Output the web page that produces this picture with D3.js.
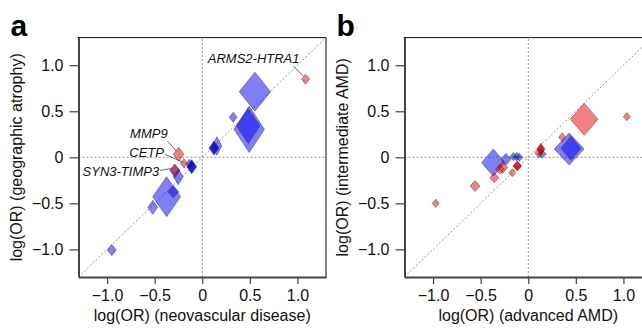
<!DOCTYPE html>
<html>
<head>
<meta charset="utf-8">
<script src="https://cdn.jsdelivr.net/npm/d3@7"></script>
<style>
  body { margin: 0; background: #fff; }
  text { font-family: "Liberation Sans", Arial, Helvetica, sans-serif; }
</style>
</head>
<body>
<div id="chart"></div>
<script>
// panel a: neovascular disease (x) vs geographic atrophy (y)
var aX    = [0.553, 0.493, 0.483, 0.325, 0.154, 0.123, -0.135, -0.111, -0.252, -0.285, -0.374, -0.304, -0.52, -0.95, 1.085, -0.248, -0.192, -0.29];
var aY    = [0.713, 0.304, 0.34, 0.435, 0.123, 0.10, -0.07, -0.102, -0.211, -0.15, -0.428, -0.374, -0.543, -1.008, 0.848, 0.033, -0.065, -0.138];
var aXci  = [0.165, 0.16, 0.123, 0.042, 0.052, 0.052, 0.04, 0.052, 0.052, 0.05, 0.147, 0.058, 0.052, 0.047, 0.042, 0.056, 0.037, 0.052];
var aYci  = [0.212, 0.253, 0.19, 0.054, 0.1, 0.076, 0.05, 0.076, 0.087, 0.07, 0.217, 0.065, 0.076, 0.06, 0.054, 0.076, 0.05, 0.065];
var aType = ["blue", "blue", "blue", "blue", "blue", "blueDark", "blue", "blueDark", "blue", "blue", "blue", "blue", "blue", "blue", "red", "red", "red", "red"];

// panel b: advanced AMD (x) vs intermediate AMD (y)
var bX    = [0.43, 0.448, 0.144, -0.367, -0.234, -0.157, -0.122, -0.094, 0.588, 1.036, 0.357, 0.112, 0.133, -0.269, -0.297, -0.115, -0.357, -0.168, -0.559, -0.972];
var bY    = [0.09, 0.098, 0.036, -0.058, -0.022, 0.007, 0.007, 0.0, 0.413, 0.441, 0.217, 0.047, 0.087, -0.109, -0.13, -0.095, -0.222, -0.167, -0.312, -0.5];
var bXci  = [0.157, 0.105, 0.047, 0.123, 0.052, 0.037, 0.037, 0.037, 0.145, 0.037, 0.037, 0.042, 0.042, 0.052, 0.047, 0.047, 0.047, 0.037, 0.052, 0.037];
var bYci  = [0.174, 0.13, 0.043, 0.149, 0.065, 0.045, 0.045, 0.045, 0.174, 0.045, 0.05, 0.054, 0.065, 0.065, 0.054, 0.054, 0.054, 0.043, 0.06, 0.045];
var bType = ["blue", "blue", "blue", "blue", "blue", "blue", "blue", "blue", "red", "red", "red", "red", "redDark", "red", "red", "redDark", "red", "red", "red", "red"];

var tickVals = [-1, -0.5, 0, 0.5, 1];
var labelNames = ["ARMS2-HTRA1", "MMP9", "CETP", "SYN3-TIMP3"];
var labelIdx = [14, 15, 16, 17]; // which panel a points get a label

var W = 642, H = 329;
var fills = {
  blue: "rgba(0,0,240,0.5)",
  blueDark: "rgba(0,0,190,0.85)",
  red: "rgba(240,0,0,0.5)",
  redDark: "rgba(205,0,0,0.85)"
};

var svg = d3.select("#chart").append("svg")
    .attr("width", W)
    .attr("height", H);

function fmt(d) {
  if (d === 0) return "0";
  return (d < 0 ? "\u2212" : "") + Math.abs(d).toFixed(1);
}

function panel(left, letter, xs, ys, xci, yci, types, xTitle, yTitle) {
  var x = d3.scaleLinear().domain([-1.3, 1.3]).range([left, left + 247.5]);
  var y = d3.scaleLinear().domain([-1.3, 1.3]).range([277, 37.6]);
  var g = svg.append("g");

  var clipId = "clip" + letter;
  svg.append("clipPath").attr("id", clipId)
    .append("rect")
    .attr("x", x(-1.3)).attr("y", y(1.3))
    .attr("width", x(1.3) - x(-1.3)).attr("height", y(-1.3) - y(1.3));

  var inner = g.append("g").attr("clip-path", "url(#" + clipId + ")");

  // reference lines
  inner.append("line")
    .attr("x1", x(0)).attr("x2", x(0)).attr("y1", y(-1.3)).attr("y2", y(1.3))
    .attr("stroke", "#777").attr("stroke-width", 0.8).attr("stroke-dasharray", "2,2");
  inner.append("line")
    .attr("x1", x(-1.3)).attr("x2", x(1.3)).attr("y1", y(0)).attr("y2", y(0))
    .attr("stroke", "#777").attr("stroke-width", 0.8).attr("stroke-dasharray", "2,2");
  inner.append("line")
    .attr("x1", x(-1.3)).attr("x2", x(1.3)).attr("y1", y(-1.3)).attr("y2", y(1.3))
    .attr("stroke", "#777").attr("stroke-width", 0.8).attr("stroke-dasharray", "2,2");

  var pts = xs.map(function(v, i) {
    return {x: v, y: ys[i], dx: xci[i], dy: yci[i], t: types[i]};
  });

  inner.selectAll("path.pt")
    .data(pts)
    .enter().append("path")
    .attr("class", "pt")
    .attr("d", function(d) {
      return "M" + x(d.x) + "," + y(d.y + d.dy) +
             "L" + x(d.x + d.dx) + "," + y(d.y) +
             "L" + x(d.x) + "," + y(d.y - d.dy) +
             "L" + x(d.x - d.dx) + "," + y(d.y) + "Z";
    })
    .attr("fill", function(d) { return fills[d.t]; })
    .attr("stroke", "#333")
    .attr("stroke-opacity", 0.75)
    .attr("stroke-width", 0.6);

  // axes
  var xAxis = g.append("g")
    .attr("transform", "translate(0," + y(-1.3) + ")")
    .call(d3.axisBottom(x).tickValues(tickVals).tickFormat(fmt).tickSize(7).tickSizeOuter(0).tickPadding(6));
  var yAxis = g.append("g")
    .attr("transform", "translate(" + x(-1.3) + ",0)")
    .call(d3.axisLeft(y).tickValues(tickVals).tickFormat(fmt).tickSize(9).tickSizeOuter(0).tickPadding(6));
  [xAxis, yAxis].forEach(function(ax) {
    ax.select(".domain").attr("stroke", "#444").attr("stroke-width", 2);
    ax.selectAll(".tick line").attr("stroke", "#444").attr("stroke-width", 1.2);
    ax.selectAll(".tick text").attr("fill", "#111").style("font-size", "16px")
      .style("font-family", '"Liberation Sans", Arial, sans-serif');
  });

  // top and right border
  g.append("line")
    .attr("x1", x(-1.3) - 1).attr("x2", x(1.3)).attr("y1", y(1.3)).attr("y2", y(1.3))
    .attr("stroke", "#111").attr("stroke-width", 1);
  g.append("line")
    .attr("x1", x(1.3)).attr("x2", x(1.3)).attr("y1", y(1.3)).attr("y2", y(-1.3))
    .attr("stroke", "#111").attr("stroke-width", 1);

  g.append("text")
    .attr("x", x(0)).attr("y", 321)
    .attr("text-anchor", "middle")
    .style("font-size", "16px").attr("fill", "#111")
    .text(xTitle);
  g.append("text")
    .attr("transform", "translate(" + (left - 57) + "," + y(0) + ") rotate(-90)")
    .attr("text-anchor", "middle")
    .style("font-size", "16px").attr("fill", "#111")
    .text(yTitle);

  g.append("text")
    .attr("x", left - 68).attr("y", 36)
    .style("font-size", "30px").style("font-weight", "bold")
    .attr("fill", "#000")
    .text(letter);

  return {x: x, y: y, g: g};
}

var pa = panel(78.5, "a", aX, aY, aXci, aYci, aType,
  "log(OR) (neovascular disease)", "log(OR) (geographic atrophy)");
var pb = panel(404.5, "b", bX, bY, bXci, bYci, bType,
  "log(OR) (advanced AMD)", "log(OR) (intermediate AMD)");

// gene labels on panel a: text end offset and leader line offsets (pixels, relative to point)
var labelLayout = [
  {tx: -6, ty: -16, l1: [-12, -13], l2: [-2, -3]},
  {tx: -11, ty: -16, l1: [-11, -13], l2: [-2, -3]},
  {tx: -20, ty: -6.5, l1: [-19, -9], l2: [-1, -1]},
  {tx: -15.5, ty: 6, l1: [-14.5, 0.5], l2: [-3, -1.5]}
];
labelNames.forEach(function(name, k) {
  var i = labelIdx[k], L = labelLayout[k];
  var px = pa.x(aX[i]), py = pa.y(aY[i]);
  pa.g.append("line")
    .attr("x1", px + L.l1[0]).attr("y1", py + L.l1[1])
    .attr("x2", px + L.l2[0]).attr("y2", py + L.l2[1])
    .attr("stroke", "#444").attr("stroke-width", 0.8);
  pa.g.append("text")
    .attr("x", px + L.tx).attr("y", py + L.ty)
    .attr("text-anchor", "end")
    .style("font-size", "13px").style("font-style", "italic")
    .attr("fill", "#111")
    .text(name);
});
</script>
</body>
</html>
